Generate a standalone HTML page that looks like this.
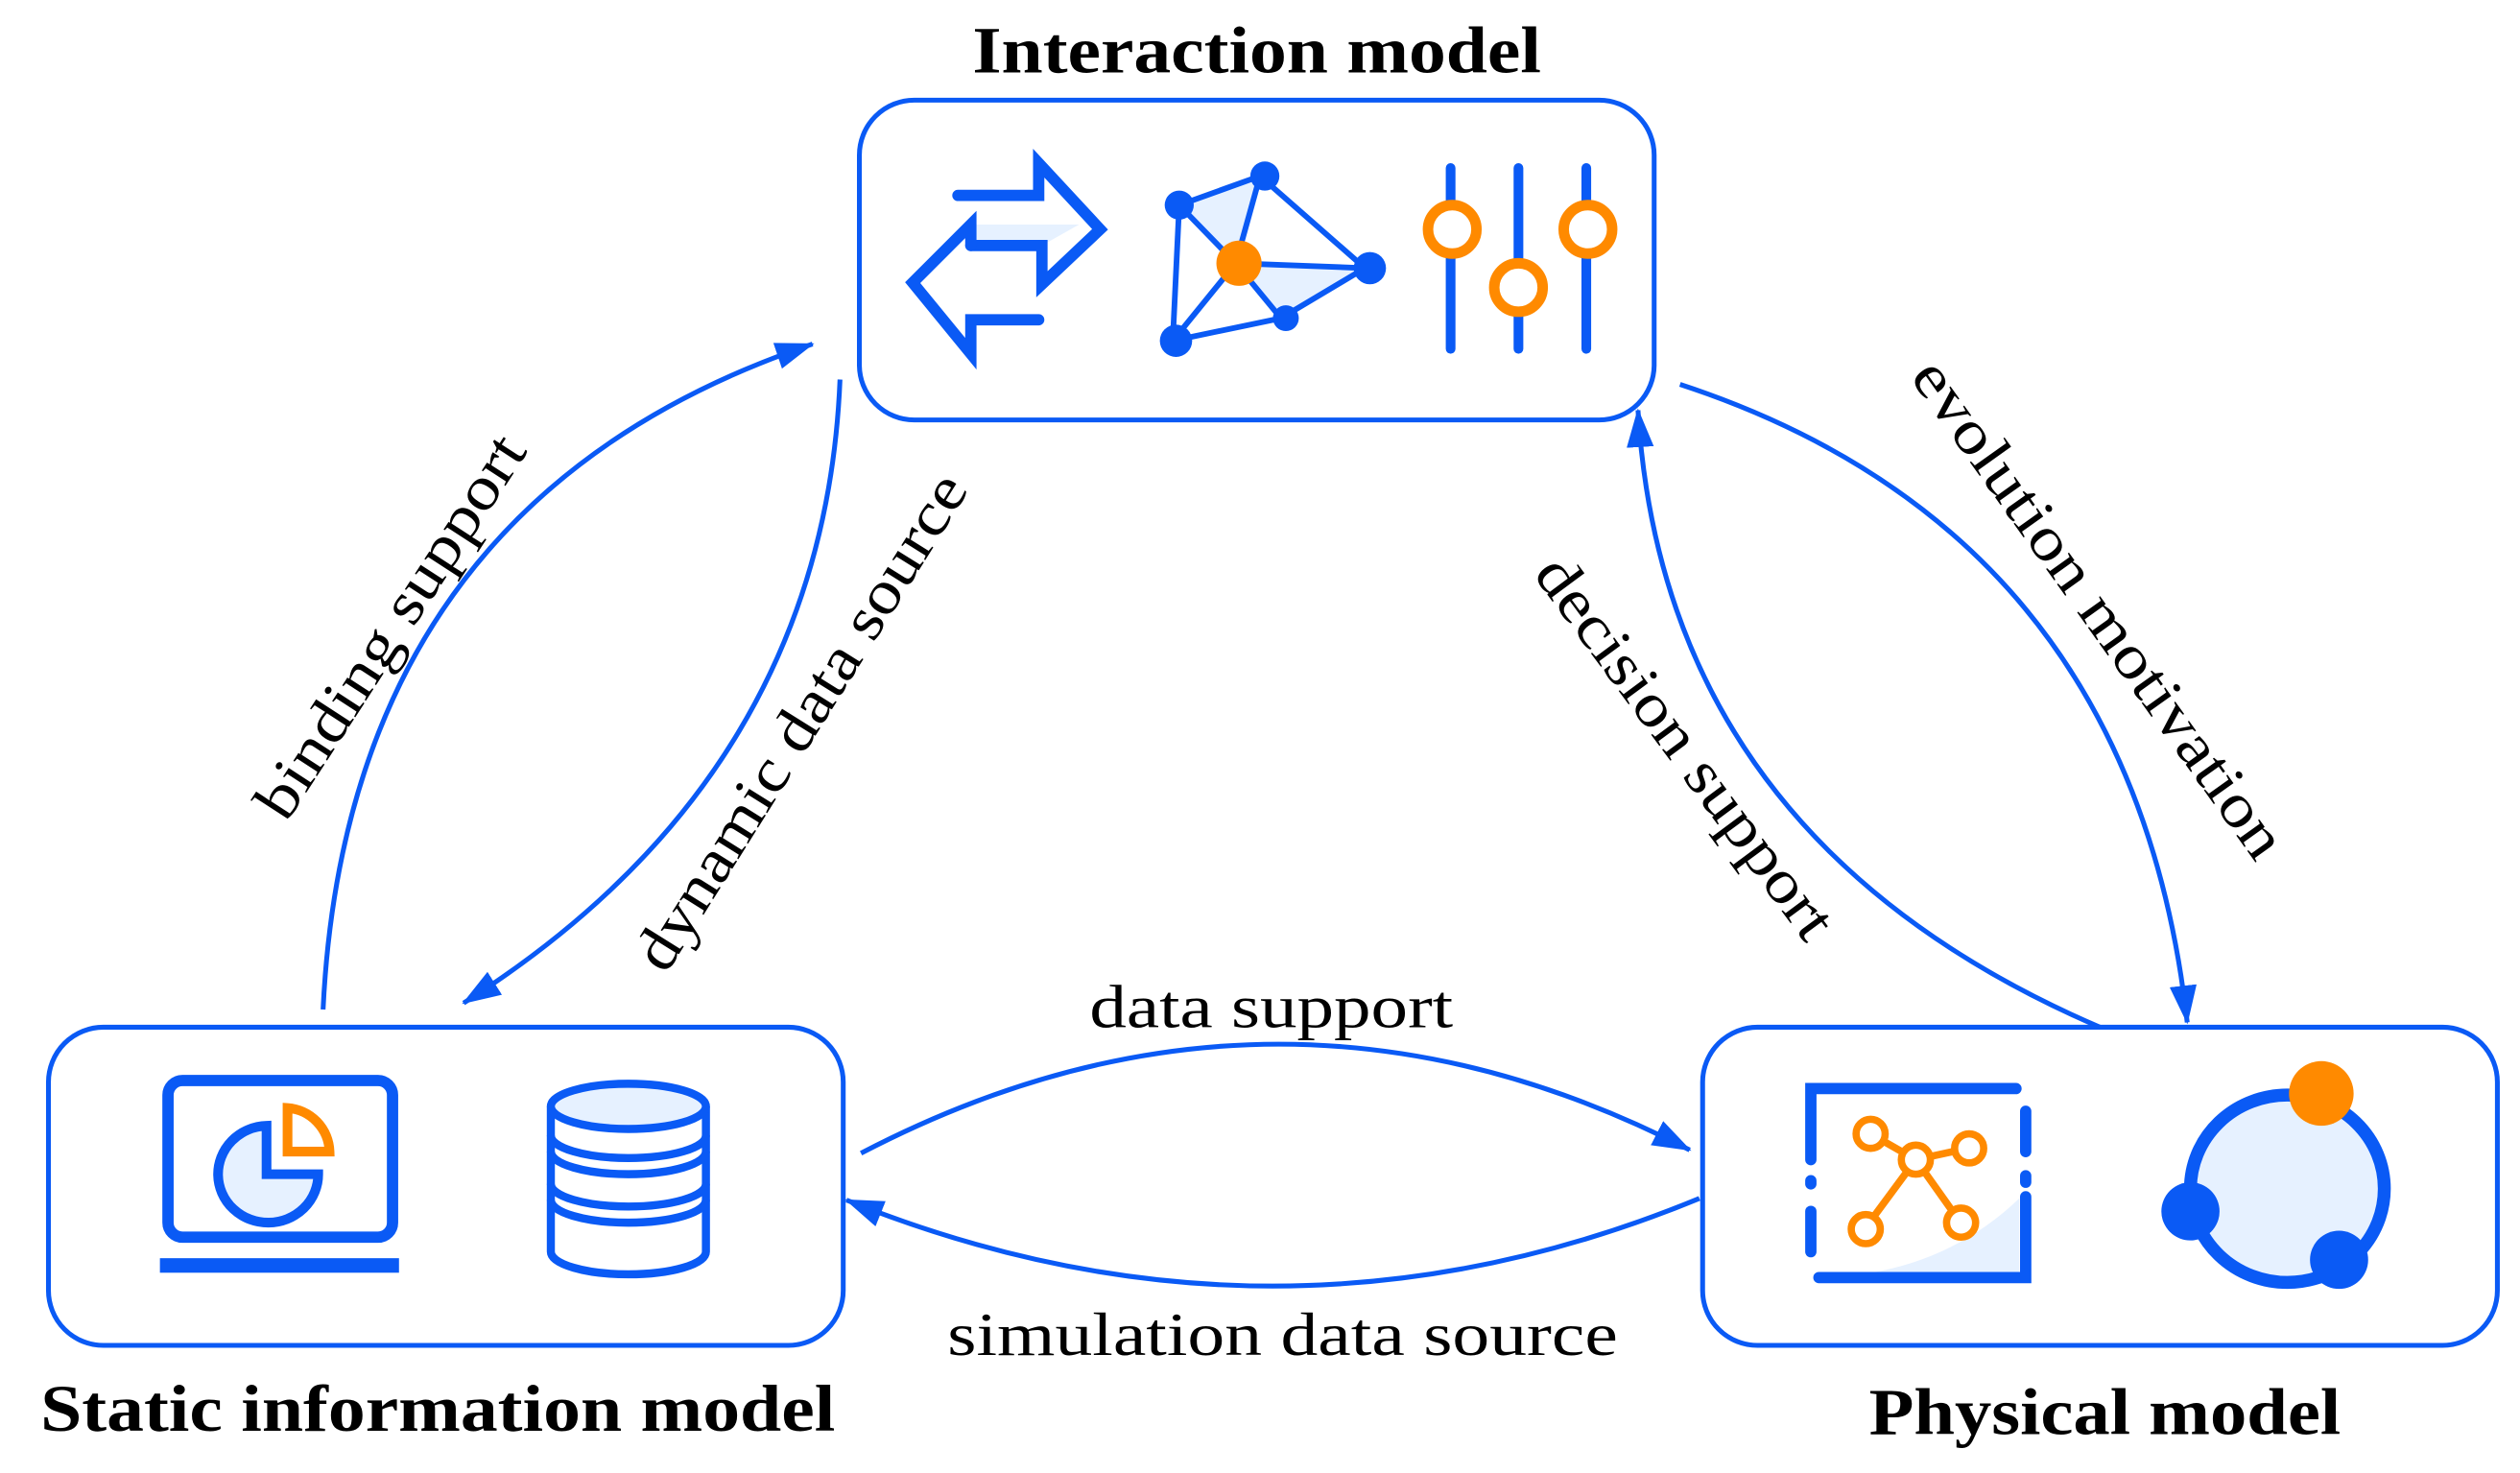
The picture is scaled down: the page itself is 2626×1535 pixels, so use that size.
<!DOCTYPE html>
<html><head><meta charset="utf-8"><style>
html,body{margin:0;padding:0;background:#fff;}
svg{display:block;}
text{font-family:"Liberation Serif",serif;fill:#000;}
</style></head><body>
<svg width="2626" height="1535" viewBox="0 0 1560 912" preserveAspectRatio="none" xmlns="http://www.w3.org/2000/svg">
<defs>
<marker id="ah" viewBox="0 0 10 10" refX="9" refY="5" markerWidth="7" markerHeight="7" markerUnits="userSpaceOnUse" orient="auto">
</marker>
<marker id="a" viewBox="0 0 20 14" refX="19" refY="7" markerWidth="24" markerHeight="17" markerUnits="userSpaceOnUse" orient="auto">
<path d="M0,0 L20,7 L0,14 Z" fill="#0A5AF5"/>
</marker>
</defs>
<g fill="none" stroke="#0A5AF5" stroke-width="3">
<rect x="532" y="62" width="492" height="198" rx="34"/>
<rect x="30" y="636" width="492" height="197" rx="34"/>
<rect x="1054" y="636" width="492" height="197" rx="34"/>
<!-- connectors -->
<path d="M200,625 Q215,310 503,213" marker-end="url(#a)"/>
<path d="M520,235 Q510,480 287,621" marker-end="url(#a)"/>
<path d="M1040,238 Q1320,330 1354,633" marker-end="url(#a)"/>
<path d="M1300,636 Q1030,520 1014,254" marker-end="url(#a)"/>
<path d="M533,714 Q790,580 1046,712" marker-end="url(#a)"/>
<path d="M1052,742 Q790,850 524,743" marker-end="url(#a)"/>
</g>
<!-- labels -->
<text x="778" y="45" font-size="41" font-weight="bold" text-anchor="middle" textLength="352" lengthAdjust="spacingAndGlyphs">Interaction model</text>
<text x="271" y="886" font-size="41" font-weight="bold" text-anchor="middle" textLength="492" lengthAdjust="spacingAndGlyphs">Static information model</text>
<text x="1303" y="888" font-size="41" font-weight="bold" text-anchor="middle" textLength="292" lengthAdjust="spacingAndGlyphs">Physical model</text>
<text x="787" y="636" font-size="38" text-anchor="middle" textLength="225" lengthAdjust="spacingAndGlyphs">data support</text>
<text x="794" y="839" font-size="38" text-anchor="middle" textLength="415" lengthAdjust="spacingAndGlyphs">simulation data source</text>
<text x="242" y="400" font-size="38" text-anchor="middle" transform="rotate(-57 242 388)" textLength="275" lengthAdjust="spacingAndGlyphs">binding support</text>
<text x="496" y="459" font-size="38" text-anchor="middle" transform="rotate(-58 496 447)" textLength="355" lengthAdjust="spacingAndGlyphs">dynamic data source</text>
<text x="1043" y="475" font-size="38" text-anchor="middle" transform="rotate(53.5 1043 463)" textLength="285" lengthAdjust="spacingAndGlyphs">decision support</text>
<text x="1299" y="389" font-size="38" text-anchor="middle" transform="rotate(54.5 1299 377)" textLength="370" lengthAdjust="spacingAndGlyphs">evolution motivation</text>

<!-- Interaction icons -->
<polygon points="601,139 668,139 645,152 601,152" fill="#E6F1FF"/>
<g fill="none" stroke="#0A5AF5" stroke-width="7" stroke-linejoin="miter" stroke-linecap="round">
<path d="M593,121 L643,121 L643,101 L681,142 L645,176 L645,152 L601,152"/>
<path d="M643,198 L601,198 L601,219 L565,175 L601,139 L601,152"/>
</g>
<polygon points="730,127 780,109 765,163" fill="#E6F1FF"/>
<polygon points="765,163 845,166 793,197" fill="#E6F1FF"/>
<g stroke="#0A5AF5" stroke-width="3.5">
<line x1="730" y1="127" x2="780" y2="109"/><line x1="780" y1="109" x2="845" y2="166"/>
<line x1="845" y1="166" x2="793" y2="197"/><line x1="793" y1="197" x2="726" y2="211"/>
<line x1="726" y1="211" x2="730" y2="127"/><line x1="730" y1="127" x2="765" y2="163"/>
<line x1="780" y1="109" x2="765" y2="163"/><line x1="765" y1="163" x2="845" y2="166"/>
<line x1="765" y1="163" x2="793" y2="197"/><line x1="765" y1="163" x2="726" y2="211"/>
</g>
<g fill="#0A5AF5">
<circle cx="730" cy="127" r="9"/><circle cx="783" cy="109" r="9"/><circle cx="848" cy="166" r="10"/>
<circle cx="796" cy="197" r="8"/><circle cx="728" cy="211" r="10"/>
</g>
<circle cx="767" cy="163" r="14" fill="#FF8A00"/>
<g stroke="#0A5AF5" stroke-width="6" stroke-linecap="round">
<line x1="898" y1="104" x2="898" y2="216"/><line x1="940" y1="104" x2="940" y2="216"/><line x1="982" y1="104" x2="982" y2="216"/>
</g>
<g fill="#fff" stroke="#FF8A00" stroke-width="6.5">
<circle cx="899" cy="142" r="15"/><circle cx="940" cy="178" r="15"/><circle cx="983" cy="142" r="15"/>
</g>

<!-- Static icons -->
<rect x="104" y="669" width="139" height="97" rx="9" fill="none" stroke="#0A5AF5" stroke-width="7"/>
<rect x="99" y="779" width="148" height="9" fill="#0A5AF5"/>
<path d="M165,697 A31,30 0 1 0 197,727 L165,727 Z" fill="#E6F1FF" stroke="#0A5AF5" stroke-width="6"/>
<path d="M178,686 L178,713 L204,713 A28,28 0 0 0 178,686 Z" fill="#fff" stroke="#FF8A00" stroke-width="6"/>
<g fill="none" stroke="#0A5AF5" stroke-width="5">
<path d="M341,685 L341,775 A48,14 0 0 0 437,775 L437,685" fill="#fff"/>
<ellipse cx="389" cy="685" rx="48" ry="14" fill="#E6F1FF"/>
<path d="M341,703 A48,14 0 0 0 437,703"/>
<path d="M341,713 A48,14 0 0 0 437,713"/>
<path d="M341,733 A48,14 0 0 0 437,733"/>
<path d="M341,743 A48,14 0 0 0 437,743"/>
</g>

<!-- Physical icons -->
<path d="M1125,791 Q1200,790 1250,742 L1250,791 Z" fill="#E6F1FF"/>
<g stroke="#0A5AF5" stroke-width="7" stroke-linecap="round" fill="none">
<path d="M1248,674 L1121,674 L1121,718"/>
<path d="M1126,791 L1254,791 L1254,741"/>
<line x1="1121" y1="731" x2="1121" y2="733"/><line x1="1121" y1="750" x2="1121" y2="775"/>
<line x1="1254" y1="688" x2="1254" y2="713"/><line x1="1254" y1="728" x2="1254" y2="732"/>
</g>
<g stroke="#FF8A00" stroke-width="4.5" fill="#fff">
<line x1="1186" y1="718" x2="1158" y2="702"/><line x1="1186" y1="718" x2="1218" y2="711"/>
<line x1="1186" y1="718" x2="1155" y2="760"/><line x1="1186" y1="718" x2="1213" y2="756"/>
<circle cx="1158" cy="702" r="9"/><circle cx="1186" cy="718" r="9"/><circle cx="1219" cy="711" r="9"/>
<circle cx="1155" cy="761" r="9"/><circle cx="1214" cy="757" r="9"/>
</g>
<ellipse cx="1416" cy="736" rx="60" ry="58" fill="#E6F1FF" stroke="#0A5AF5" stroke-width="8"/>
<circle cx="1437" cy="677" r="20" fill="#FF8A00"/>
<circle cx="1356" cy="750" r="18" fill="#0A5AF5"/>
<circle cx="1448" cy="780" r="18" fill="#0A5AF5"/>
</svg>
</body></html>
